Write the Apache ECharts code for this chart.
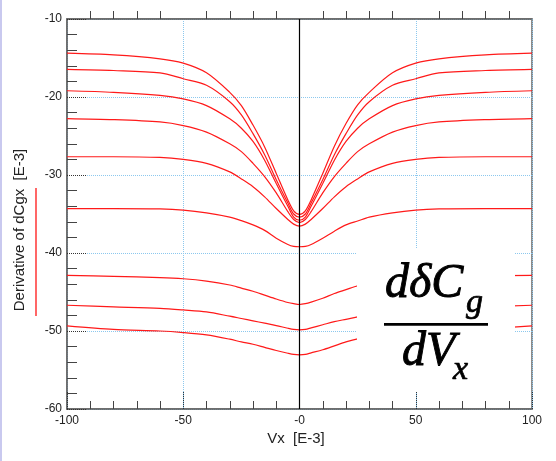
<!DOCTYPE html>
<html>
<head>
<meta charset="utf-8">
<script src="https://cdn.jsdelivr.net/npm/echarts@6/dist/echarts.min.js"></script>
<style>html,body{margin:0;padding:0;background:#fff;}#c{width:556px;height:461px;}</style>
</head>
<body>
<div id="c"></div>
<script>
const xs = [-100,-80,-60,-50,-40,-30,-25,-20,-15,-10,-5,-2.5,0,2.5,5,10,15,20,25,30,40,50,60,80,100];
const c1 = [-14.38,-14.6,-15.1,-15.66,-16.9,-19.4,-21.1,-23.6,-26.4,-29.8,-33.2,-34.6,-35.06,-34.6,-33.2,-29.8,-26.3,-23.4,-21.0,-19.4,-16.9,-15.66,-15.1,-14.6,-14.38];
const c2 = [-16.47,-16.6,-16.9,-17.66,-18.5,-20.6,-22.3,-24.7,-27.4,-30.6,-33.6,-35.0,-35.4,-35.0,-33.6,-30.6,-27.4,-24.7,-22.3,-20.6,-18.5,-17.66,-16.9,-16.6,-16.47];
const c3 = [-19.2,-19.4,-19.8,-20.25,-21.1,-22.8,-24.0,-25.7,-28.1,-31.1,-34.0,-35.4,-35.8,-35.4,-34.0,-31.1,-28.1,-25.7,-24.0,-22.8,-21.1,-20.25,-19.8,-19.4,-19.2];
const c4 = [-22.77,-22.9,-23.2,-23.66,-24.5,-26.0,-27.0,-28.5,-30.2,-32.3,-34.7,-35.7,-36.1,-35.7,-34.7,-32.3,-30.2,-28.5,-27.0,-26.0,-24.5,-23.66,-23.2,-22.9,-22.77];
const c5 = [-27.66,-27.66,-27.75,-28.0,-28.5,-29.6,-30.5,-31.5,-32.8,-34.3,-35.7,-36.3,-36.55,-36.3,-35.7,-34.3,-32.8,-31.5,-30.5,-29.6,-28.5,-28.0,-27.75,-27.66,-27.66];
const c6 = [-34.3,-34.3,-34.35,-34.5,-34.85,-35.4,-35.85,-36.4,-37.1,-38.1,-38.9,-39.15,-39.2,-39.15,-38.9,-38.1,-37.2,-36.4,-35.9,-35.4,-34.85,-34.5,-34.35,-34.3,-34.3];
const c7 = [-42.86,-43.0,-43.15,-43.3,-43.6,-44.1,-44.5,-44.9,-45.4,-45.9,-46.35,-46.5,-46.6,-46.5,-46.3,-45.8,-45.2,-44.7,-44.2,-43.9,-43.5,-43.25,-43.1,-42.95,-42.86];
const c8 = [-46.7,-46.9,-47.1,-47.3,-47.55,-48.1,-48.4,-48.7,-49.0,-49.3,-49.65,-49.8,-49.85,-49.8,-49.6,-49.2,-48.8,-48.5,-48.2,-47.9,-47.5,-47.25,-47.1,-46.9,-46.7];
const c9 = [-49.35,-49.8,-50.0,-50.2,-50.5,-51.05,-51.4,-51.7,-52.1,-52.5,-52.85,-53.0,-53.05,-53.0,-52.8,-52.4,-51.9,-51.4,-51.0,-50.75,-50.4,-50.15,-49.95,-49.7,-49.35];
const curves = [c1,c2,c3,c4,c5,c6,c7,c8,c9];
const xTickLabels = {'-100':'-100','-50':'-50','0':'-0','50':'50','100':'100'};
const yTickLabels = {'-10':'-10','-20':'-20','-30':'-30','-40':'-40','-50':'-50','-60':'-60'};
const xName = 'Vx  [E-3]';
const yName = 'Derivative of dCgx  [E-3]';

const chart = echarts.init(document.getElementById('c'), null, {renderer:'canvas'});
const FONT = 'Liberation Sans, Arial, sans-serif';
const gridBlue = '#8cc8ee';
const series = curves.map((c, i) => ({
  type:'line', data: xs.map((x,j)=>[x,c[j]]), smooth:0.3, symbol:'none',
  lineStyle:{color:'#ff1a1a', width:1.2}, silent:true, z:2,
  markLine: i===0 ? {silent:true, symbol:'none', label:{show:false},
    lineStyle:{color:'#000', width:1.2, type:'solid'}, data:[{xAxis:0}]} : undefined
}));
const mathFont = 'italic 48px "Liberation Serif", serif';
const subFont = 'italic 34px "Liberation Serif", serif';
chart.setOption({
  animation:false,
  backgroundColor:'#fff',
  grid:{left:67, right:24, top:19, bottom:52, show:true, borderColor:'#666', borderWidth:1.5, backgroundColor:'transparent'},
  xAxis:[{
    type:'value', min:-100, max:100, interval:50, position:'bottom',
    axisLine:{show:true, onZero:false, lineStyle:{color:'#666', width:1.5}},
    axisTick:{show:true, inside:true, length:18, lineStyle:{color:'#333', type:'dotted', width:1}},
    minorTick:{show:true, splitNumber:5, length:8, lineStyle:{color:'#444', width:1}},
    axisLabel:{color:'#222', fontFamily:FONT, fontSize:12, margin:6, formatter:v=>xTickLabels[String(v)]},
    splitLine:{show:true, lineStyle:{color:gridBlue, type:'dotted', width:1}}
  },{
    type:'value', min:-100, max:100, interval:50, position:'top',
    axisLine:{show:true, onZero:false, lineStyle:{color:'#666', width:1.5}},
    axisTick:{show:false},
    minorTick:{show:true, splitNumber:5, length:8, lineStyle:{color:'#444', width:1}},
    axisLabel:{show:false}, splitLine:{show:false}
  }],
  yAxis:[{
    type:'value', min:-60, max:-10, interval:10,
    axisLine:{show:true, onZero:false, lineStyle:{color:'#666', width:1.5}},
    axisTick:{show:true, inside:true, length:19, lineStyle:{color:'#333', type:'dotted', width:1}},
    minorTick:{show:true, splitNumber:5, length:10, lineStyle:{color:'#444', width:1}},
    axisLabel:{color:'#222', fontFamily:FONT, fontSize:12, margin:5, formatter:v=>yTickLabels[String(v)]},
    splitLine:{show:true, lineStyle:{color:gridBlue, type:'dotted', width:1}}
  }],
  series: series,
  graphic:[
    {type:'rect', z:100, shape:{x:0,y:0,width:2,height:461}, style:{fill:'#c9c9ef'}},
    {type:'rect', z:100, shape:{x:357,y:248,width:158,height:144}, style:{fill:'#fff'}},
    {type:'text', z:101, x:20, y:230, rotation:Math.PI/2,
      style:{text:yName, font:'15px '+FONT, fill:'#222', align:'center', verticalAlign:'middle'}},
    {type:'line', z:101, shape:{x1:36,y1:188,x2:36,y2:316}, style:{stroke:'#ff0000', lineWidth:1.2}},
    {type:'text', z:101, x:296, y:439,
      style:{text:xName, font:'15px '+FONT, fill:'#222', align:'center', verticalAlign:'middle'}},
    {type:'text', z:101, x:385, y:284,
      style:{text:'dδC', font:mathFont, fill:'#000', stroke:'#000', lineWidth:0.9, align:'left', verticalAlign:'middle'}},
    {type:'text', z:101, x:466, y:303,
      style:{text:'g', font:subFont, fill:'#000', stroke:'#000', lineWidth:0.7, align:'left', verticalAlign:'middle'}},
    {type:'rect', z:101, shape:{x:384,y:323,width:104,height:2.8}, style:{fill:'#000'}},
    {type:'text', z:101, x:402, y:352,
      style:{text:'dV', font:mathFont, fill:'#000', stroke:'#000', lineWidth:0.9, align:'left', verticalAlign:'middle'}},
    {type:'text', z:101, x:453, y:370,
      style:{text:'x', font:subFont, fill:'#000', stroke:'#000', lineWidth:0.7, align:'left', verticalAlign:'middle'}}
  ]
});
</script>
</body>
</html>
